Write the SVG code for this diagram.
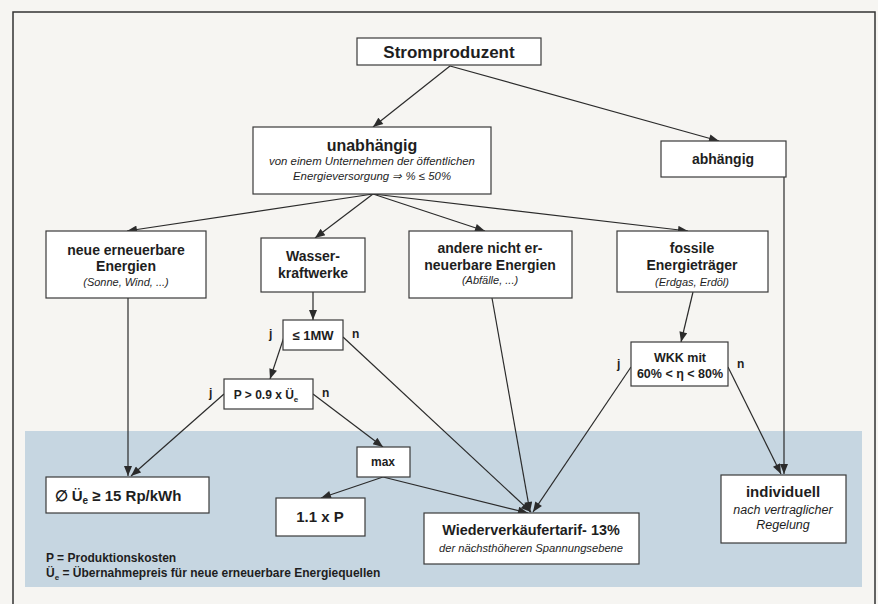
<svg xmlns="http://www.w3.org/2000/svg" width="878" height="604" viewBox="0 0 878 604">
<defs>
<marker id="ah" viewBox="0 0 10 8" refX="10" refY="4" markerWidth="11" markerHeight="8" markerUnits="userSpaceOnUse" orient="auto">
<path d="M0,0 L10,4 L0,8 Z" fill="#2b2b2b"/>
</marker>
<style>
.box{fill:#fff;stroke:#3a3a3a;stroke-width:1.2}
.t{font-family:"Liberation Sans",Arial,sans-serif;fill:#1e1e1e;text-anchor:middle}
.b{font-weight:bold}
.i{font-style:italic}
.c line,.c path{stroke:#2b2b2b;stroke-width:1.2;fill:none}
.l{font-family:"Liberation Sans",Arial,sans-serif;font-weight:bold;font-size:12px;fill:#1e1e1e}
</style>
</defs>
<rect x="0" y="0" width="878" height="604" fill="#f6f5f2"/>
<rect x="13" y="12" width="862" height="620" fill="none" stroke="#333" stroke-width="1.5"/>
<rect x="25" y="431" width="837" height="156" fill="#c6d6e1"/>

<g class="c" id="connectors">
<line x1="450" y1="66" x2="373" y2="127" marker-end="url(#ah)"/>
<line x1="450" y1="66" x2="719" y2="141" marker-end="url(#ah)"/>
<line x1="373" y1="194" x2="127" y2="231" marker-end="url(#ah)"/>
<line x1="373" y1="194" x2="315" y2="238" marker-end="url(#ah)"/>
<line x1="373" y1="194" x2="485" y2="231" marker-end="url(#ah)"/>
<line x1="373" y1="194" x2="688" y2="231" marker-end="url(#ah)"/>
<line x1="784" y1="177" x2="784" y2="474" marker-end="url(#ah)"/>
<line x1="128" y1="298" x2="128" y2="476" marker-end="url(#ah)"/>
<line x1="313" y1="292" x2="313" y2="320" marker-end="url(#ah)"/>
<line x1="284" y1="337" x2="270" y2="379" marker-end="url(#ah)"/>
<line x1="343" y1="337" x2="531" y2="512" marker-end="url(#ah)"/>
<line x1="224" y1="394" x2="131" y2="476" marker-end="url(#ah)"/>
<line x1="313" y1="394" x2="383" y2="447" marker-end="url(#ah)"/>
<line x1="383" y1="477" x2="321" y2="498" marker-end="url(#ah)"/>
<line x1="383" y1="477" x2="528" y2="513" marker-end="url(#ah)"/>
<line x1="492" y1="298" x2="530" y2="512" marker-end="url(#ah)"/>
<line x1="631" y1="367" x2="533" y2="512" marker-end="url(#ah)"/>
<line x1="728" y1="367" x2="781" y2="474" marker-end="url(#ah)"/>
<line x1="693" y1="292" x2="681" y2="342" marker-end="url(#ah)"/>
</g>

<g id="stromproduzent">
<rect class="box" x="357" y="38" width="184" height="27"/>
<text class="t b" x="449" y="58" font-size="17">Stromproduzent</text>
</g>
<g id="unabhaengig">
<rect class="box" x="253" y="127" width="238" height="67"/>
<text class="t b" x="372" y="151" font-size="16">unabhängig</text>
<text class="t i" x="372" y="165" font-size="11.4">von einem Unternehmen der öffentlichen</text>
<text class="t i" x="372" y="180" font-size="11.4">Energieversorgung ⇒ % ≤ 50%</text>
</g>
<g id="abhaengig">
<rect class="box" x="661" y="141" width="125" height="36"/>
<text class="t b" x="723" y="164" font-size="14">abhängig</text>
</g>
<g id="neue">
<rect class="box" x="46" y="231" width="160" height="67"/>
<text class="t b" x="126" y="255" font-size="14">neue  erneuerbare</text>
<text class="t b" x="126" y="271" font-size="14">Energien</text>
<text class="t i" x="126" y="286" font-size="11">(Sonne, Wind, ...)</text>
</g>
<g id="wasser">
<rect class="box" x="261" y="238" width="104" height="54"/>
<text class="t b" x="313" y="261" font-size="14">Wasser-</text>
<text class="t b" x="313" y="278" font-size="14">kraftwerke</text>
</g>
<g id="andere">
<rect class="box" x="409" y="231" width="163" height="67"/>
<text class="t b" x="490" y="253" font-size="14">andere nicht er-</text>
<text class="t b" x="490" y="270" font-size="14">neuerbare Energien</text>
<text class="t i" x="490" y="284" font-size="11">(Abfälle, ...)</text>
</g>
<g id="fossile">
<rect class="box" x="617" y="231" width="151" height="61"/>
<text class="t b" x="692" y="253" font-size="14">fossile</text>
<text class="t b" x="692" y="270" font-size="14">Energieträger</text>
<text class="t i" x="692" y="286" font-size="11">(Erdgas,  Erdöl)</text>
</g>
<g id="mw">
<rect class="box" x="283" y="320" width="60" height="30"/>
<text class="t b" x="313" y="340" font-size="13">≤ 1MW</text>
<text class="l" x="269" y="338">j</text>
<text class="l" x="352" y="338">n</text>
</g>
<g id="p09">
<rect class="box" x="224" y="379" width="89" height="30"/>
<text class="t b" x="266" y="399" font-size="12">P &gt; 0.9 x Ü<tspan font-size="8" dy="3">e</tspan></text>
<text class="l" x="209" y="397">j</text>
<text class="l" x="322" y="397">n</text>
</g>
<g id="wkk">
<rect class="box" x="631" y="342" width="97" height="44"/>
<text class="t b" x="680" y="362" font-size="12.5">WKK  mit</text>
<text class="t b" x="680" y="378" font-size="12.5">60% &lt; η &lt; 80%</text>
<text class="l" x="617" y="368">j</text>
<text class="l" x="737" y="368">n</text>
</g>
<g id="max">
<rect class="box" x="357" y="447" width="53" height="30"/>
<text class="t b" x="383" y="466" font-size="12">max</text>
</g>
<g id="ue15">
<rect class="box" x="46" y="477" width="163" height="36"/>
<text class="t b" x="118" y="501" font-size="15">∅ Ü<tspan font-size="10" dy="3">e</tspan><tspan dy="-3"> ≥ 15 Rp/kWh</tspan></text>
</g>
<g id="p11">
<rect class="box" x="276" y="498" width="89" height="38"/>
<text class="t b" x="320" y="522" font-size="15">1.1 x P</text>
</g>
<g id="wieder">
<rect class="box" x="424" y="513" width="215" height="51"/>
<text class="t b" x="531" y="535" font-size="14.4">Wiederverkäufertarif- 13%</text>
<text class="t i" x="531" y="552" font-size="11.2">der nächsthöheren Spannungsebene</text>
</g>
<g id="individuell">
<rect class="box" x="721" y="475" width="125" height="68"/>
<text class="t b" x="783" y="497" font-size="15">individuell</text>
<text class="t i" x="783" y="514" font-size="12.5">nach vertraglicher</text>
<text class="t i" x="783" y="529" font-size="12.5">Regelung</text>
</g>
<g id="legend">
<text class="l" x="46" y="562" font-size="11">P = Produktionskosten</text>
<text class="l" x="46" y="577" font-size="11">Ü<tspan font-size="8" dy="3">e</tspan><tspan dy="-3"> = Übernahmepreis für neue erneuerbare Energiequellen</tspan></text>
</g>
</svg>
